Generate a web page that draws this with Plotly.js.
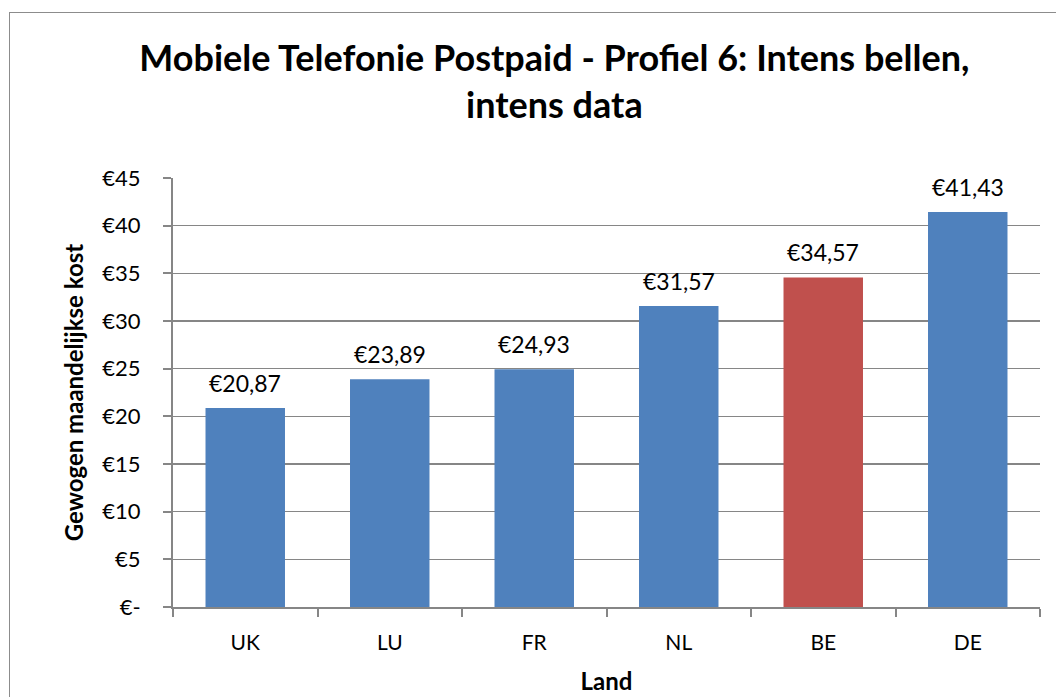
<!DOCTYPE html>
<html>
<head>
<meta charset="utf-8">
<script src="https://cdn.plot.ly/plotly-3.0.1.min.js"></script>
<style>
html,body{margin:0;padding:0;background:#fff;}
#wrap{position:relative;width:1056px;height:697px;overflow:hidden;}
#chart{width:1056px;height:697px;}
#frame{position:absolute;left:9px;top:12px;width:1100px;height:750px;border:1.5px solid #8c8c8c;pointer-events:none;box-sizing:border-box;}
</style>
</head>
<body>
<div id="wrap"><div id="chart"></div><div id="frame"></div></div>
<script>
const categories = ["UK", "LU", "FR", "NL", "BE", "DE"];
const values = [20.87, 23.89, 24.93, 31.57, 34.57, 41.43];
const barColors = ["#4F81BD", "#4F81BD", "#4F81BD", "#4F81BD", "#C0504D", "#4F81BD"];
const yTickVals = [0, 5, 10, 15, 20, 25, 30, 35, 40, 45];
const yTickText = ["€-", "€5", "€10", "€15", "€20", "€25", "€30", "€35", "€40", "€45"];

const FONT = "Lato, 'Open Sans', sans-serif";

const trace = {
  type: "bar",
  x: categories,
  y: values,
  marker: {color: barColors, line: {width: 0}},
  hoverinfo: "x+y"
};

const labelAnnotations = categories.map((c, i) => ({
  x: c,
  y: values[i],
  xref: "x",
  yref: "y",
  text: "€" + values[i].toFixed(2).replace(".", ","),
  showarrow: false,
  yanchor: "bottom",
  yshift: 9,
  font: {family: FONT, size: 23, color: "#000"}
}));

const layout = {
  width: 1056,
  height: 697,
  separators: ",.",
  paper_bgcolor: "rgba(0,0,0,0)",
  plot_bgcolor: "#fff",
  margin: {l: 173, r: 16, t: 178, b: 90},
  bargap: 0.45,
  showlegend: false,
  font: {family: FONT, color: "#000"},
  annotations: labelAnnotations,
  title: {
    text: "<b>Mobiele Telefonie Postpaid - Profiel 6: Intens bellen,<br>intens data</b>",
    font: {family: FONT, size: 36, color: "#000"},
    x: 0.525, xanchor: "center",
    yref: "container", y: 0.898, yanchor: "middle"
  },
  xaxis: {
    type: "category",
    tickson: "boundaries",
    ticks: "outside",
    ticklen: 8,
    tickcolor: "#868686",
    tickwidth: 2,
    showline: true,
    linecolor: "#868686",
    linewidth: 2,
    showgrid: false,
    ticklabelstandoff: 16,
    tickfont: {family: FONT, size: 21, color: "#000"},
    title: {text: "<b>Land</b>", font: {family: FONT, size: 24, color: "#000"}, standoff: 20}
  },
  yaxis: {
    range: [0, 45],
    tickvals: yTickVals,
    ticktext: yTickText,
    ticks: "outside",
    ticklen: 8,
    tickcolor: "#868686",
    tickwidth: 2,
    showline: true,
    linecolor: "#868686",
    linewidth: 2,
    showgrid: true,
    gridcolor: "#868686",
    gridwidth: 1.5,
    zeroline: false,
    ticklabelstandoff: 18,
    tickfont: {family: FONT, size: 22, color: "#000"},
    title: {text: "<b>Gewogen maandelijkse kost</b>", font: {family: FONT, size: 24, color: "#000"}, standoff: 12}
  }
};

Plotly.newPlot("chart", [trace], layout, {displayModeBar: false, staticPlot: true});
</script>
</body>
</html>
